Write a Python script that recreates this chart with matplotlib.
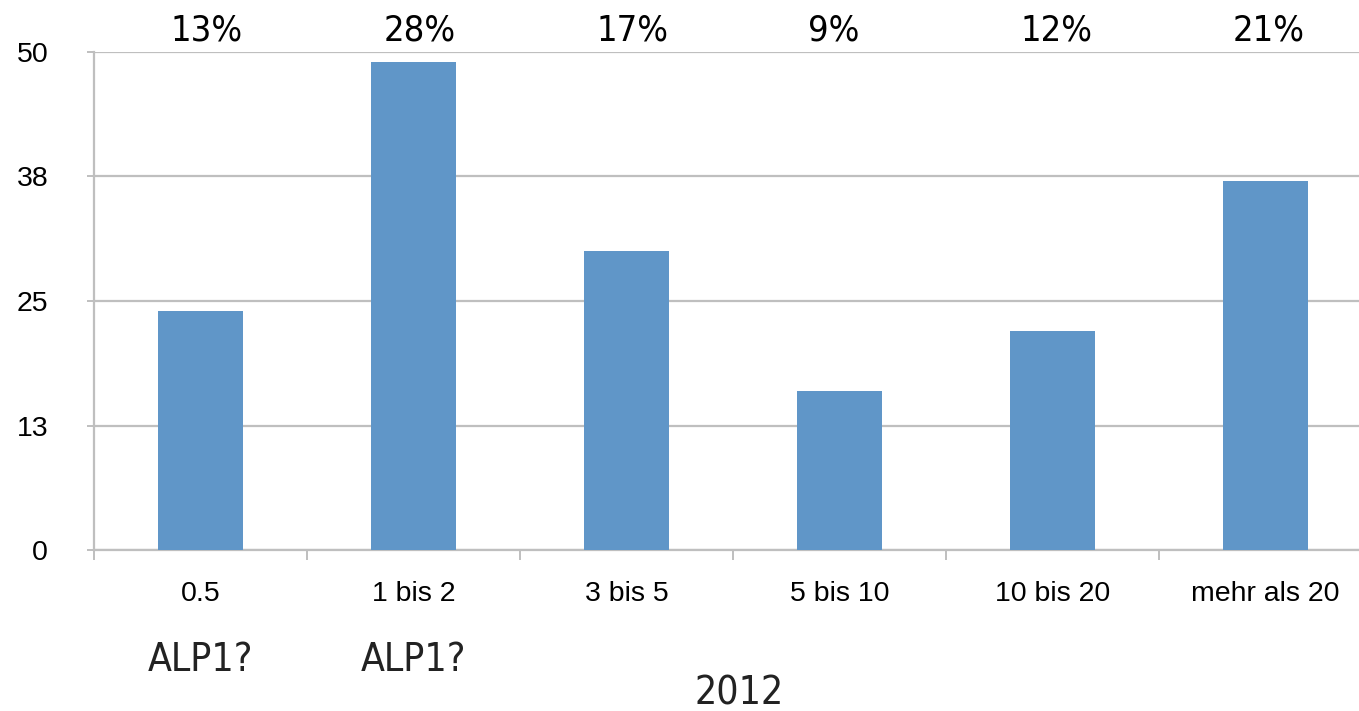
import matplotlib
matplotlib.use("Agg")
import matplotlib.pyplot as plt
import matplotlib.transforms as mtransforms

categories = ["0.5", "1 bis 2", "3 bis 5", "5 bis 10", "10 bis 20", "mehr als 20"]
values = [24, 49, 30, 16, 22, 37]
pct_labels = ["13%", "28%", "17%", "9%", "12%", "21%"]
ytick_values = [0, 12.5, 25, 37.5, 50]
ytick_labels = ["0", "13", "25", "38", "50"]
note_labels = ["ALP1?", "ALP1?"]
xlabel = "2012"

# small horizontal nudges (layout only) of the percent labels, in category units
pct_nudge = [0.028, 0.028, 0.028, -0.028, 0.019, 0.014]

W, H = 1359, 711
fig = plt.figure(figsize=(W / 100, H / 100), dpi=100)
ax = fig.add_axes([94 / W, 161 / H, 1278 / W, 498 / H])

bar_color = "#6096c8"
grid_color = "#bfbfbf"
x = list(range(len(categories)))
ax.bar(x, values, width=0.4, color=bar_color, zorder=3)

ax.set_xlim(-0.5, len(categories) - 0.5)
ax.set_ylim(0, 50)
ax.set_yticks(ytick_values)
ax.set_yticklabels(ytick_labels, fontfamily="Liberation Sans", fontsize=20.5)
ax.set_xticks(x)
ax.set_xticklabels(categories, fontfamily="Liberation Sans", fontsize=20.5)
ax.set_xticks([i - 0.5 for i in range(len(categories) + 1)], minor=True)

ax.yaxis.grid(True, color=grid_color, linewidth=1.6, zorder=0)
ax.set_axisbelow(True)
for s in ["top", "right"]:
    ax.spines[s].set_visible(False)
for s in ["left", "bottom"]:
    ax.spines[s].set_color(grid_color)
    ax.spines[s].set_linewidth(1.6)

ax.tick_params(axis="y", length=5, width=1.4, color=grid_color, pad=28)
ax.tick_params(axis="x", which="major", length=0, pad=22)
ax.tick_params(axis="x", which="minor", length=7, width=1.4, color=grid_color)

trans = mtransforms.blended_transform_factory(ax.transData, ax.transAxes)
for i, lab in enumerate(pct_labels):
    ax.text(i + pct_nudge[i], 1.044, lab, transform=trans, ha="center", va="center",
            fontsize=26, clip_on=False, color="black",
            family="DejaVu Sans", stretch="condensed")
for i, lab in enumerate(note_labels):
    ax.text(i, -0.221, lab, transform=trans, ha="center", va="center",
            fontsize=28, clip_on=False, color="#222222",
            family="DejaVu Sans", stretch="condensed")
ax.text(2.53, -0.289, xlabel, transform=trans, ha="center", va="center",
        fontsize=28, clip_on=False, color="#222222",
        family="DejaVu Sans", stretch="condensed")

fig.savefig("out.png", dpi=100)
